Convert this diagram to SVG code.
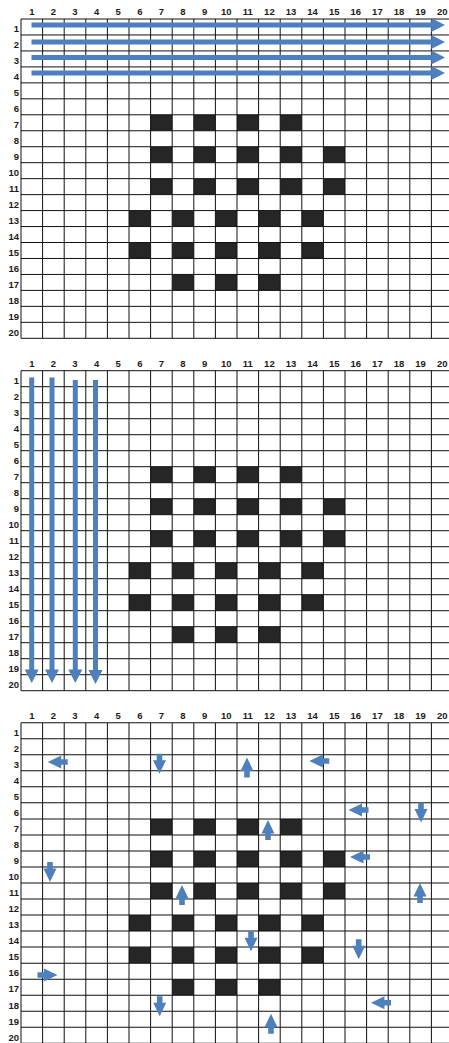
<svg xmlns="http://www.w3.org/2000/svg" xmlns:xlink="http://www.w3.org/1999/xlink" width="449" height="1043" viewBox="0 0 449 1043">
<style>
.bg{fill:#ffffff}
.cell{fill:#262626}
.grid{fill:none;stroke:#111;stroke-width:1}
.lbl{font-family:"Liberation Sans",Arial,sans-serif;font-weight:bold;font-size:9.5px;fill:#1e1a16}
.cl{text-anchor:middle}
.rl{text-anchor:end}
.arr{fill:#4e80bd}
</style>
<defs>
<g id="cellsT">
<rect class="cell" x="150.6" y="96" width="21.6" height="16"/><rect class="cell" x="193.8" y="96" width="21.6" height="16"/><rect class="cell" x="237" y="96" width="21.6" height="16"/><rect class="cell" x="280.2" y="96" width="21.6" height="16"/>
<rect class="cell" x="150.6" y="128" width="21.6" height="16"/><rect class="cell" x="193.8" y="128" width="21.6" height="16"/><rect class="cell" x="237" y="128" width="21.6" height="16"/><rect class="cell" x="280.2" y="128" width="21.6" height="16"/><rect class="cell" x="323.4" y="128" width="21.6" height="16"/>
<rect class="cell" x="150.6" y="160" width="21.6" height="16"/><rect class="cell" x="193.8" y="160" width="21.6" height="16"/><rect class="cell" x="237" y="160" width="21.6" height="16"/><rect class="cell" x="280.2" y="160" width="21.6" height="16"/><rect class="cell" x="323.4" y="160" width="21.6" height="16"/>
<rect class="cell" x="129" y="192" width="21.6" height="16"/><rect class="cell" x="172.2" y="192" width="21.6" height="16"/><rect class="cell" x="215.4" y="192" width="21.6" height="16"/><rect class="cell" x="258.6" y="192" width="21.6" height="16"/><rect class="cell" x="301.8" y="192" width="21.6" height="16"/>
<rect class="cell" x="129" y="224" width="21.6" height="16"/><rect class="cell" x="172.2" y="224" width="21.6" height="16"/><rect class="cell" x="215.4" y="224" width="21.6" height="16"/><rect class="cell" x="258.6" y="224" width="21.6" height="16"/><rect class="cell" x="301.8" y="224" width="21.6" height="16"/>
<rect class="cell" x="172.2" y="256" width="21.6" height="16"/><rect class="cell" x="215.4" y="256" width="21.6" height="16"/><rect class="cell" x="258.6" y="256" width="21.6" height="16"/>
</g>
<path id="linesT" class="grid" d="M21,0V320M42.6,0V320M64.2,0V320M85.8,0V320M107.4,0V320M129,0V320M150.6,0V320M172.2,0V320M193.8,0V320M215.4,0V320M237,0V320M258.6,0V320M280.2,0V320M301.8,0V320M323.4,0V320M345,0V320M366.6,0V320M388.2,0V320M409.8,0V320M431.4,0V320M21,0H449M21,16H449M21,32H449M21,48H449M21,64H449M21,80H449M21,96H449M21,112H449M21,128H449M21,144H449M21,160H449M21,176H449M21,192H449M21,208H449M21,224H449M21,240H449M21,256H449M21,272H449M21,288H449M21,304H449M21,320H449"/>
<path id="sa" class="arr" d="M-10,-2.8H-3.5V-6.5L10,0L-3.5,6.5V2.8H-10Z"/>
</defs>
<rect class="bg" x="0" y="0" width="449" height="1043"/>

<g id="grid1" transform="translate(0,19) scale(1,0.99781)">
<use xlink:href="#cellsT"/>
<use xlink:href="#linesT"/>
<g class="lbl cl">
<text x="31.8" y="-3.7">1</text><text x="53.4" y="-3.7">2</text><text x="75" y="-3.7">3</text><text x="96.6" y="-3.7">4</text><text x="118.2" y="-3.7">5</text><text x="139.8" y="-3.7">6</text><text x="161.4" y="-3.7">7</text><text x="183" y="-3.7">8</text><text x="204.6" y="-3.7">9</text><text x="226.2" y="-3.7">10</text><text x="247.8" y="-3.7">11</text><text x="269.4" y="-3.7">12</text><text x="291" y="-3.7">13</text><text x="312.6" y="-3.7">14</text><text x="334.2" y="-3.7">15</text><text x="355.8" y="-3.7">16</text><text x="377.4" y="-3.7">17</text><text x="399" y="-3.7">18</text><text x="420.6" y="-3.7">19</text><text x="442.2" y="-3.7">20</text>
</g>
<g class="lbl rl">
<text x="19" y="13.3">1</text><text x="19" y="29.3">2</text><text x="19" y="45.3">3</text><text x="19" y="61.3">4</text><text x="19" y="77.3">5</text><text x="19" y="93.3">6</text><text x="19" y="109.3">7</text><text x="19" y="125.3">8</text><text x="19" y="141.3">9</text><text x="19" y="157.3">10</text><text x="19" y="173.3">11</text><text x="19" y="189.3">12</text><text x="19" y="205.3">13</text><text x="19" y="221.3">14</text><text x="19" y="237.3">15</text><text x="19" y="253.3">16</text><text x="19" y="269.3">17</text><text x="19" y="285.3">18</text><text x="19" y="301.3">19</text><text x="19" y="317.3">20</text>
</g>
</g>

<g id="grid2" transform="translate(0,370.7)">
<use xlink:href="#cellsT"/>
<use xlink:href="#linesT"/>
<g class="lbl cl">
<text x="31.8" y="-3.7">1</text><text x="53.4" y="-3.7">2</text><text x="75" y="-3.7">3</text><text x="96.6" y="-3.7">4</text><text x="118.2" y="-3.7">5</text><text x="139.8" y="-3.7">6</text><text x="161.4" y="-3.7">7</text><text x="183" y="-3.7">8</text><text x="204.6" y="-3.7">9</text><text x="226.2" y="-3.7">10</text><text x="247.8" y="-3.7">11</text><text x="269.4" y="-3.7">12</text><text x="291" y="-3.7">13</text><text x="312.6" y="-3.7">14</text><text x="334.2" y="-3.7">15</text><text x="355.8" y="-3.7">16</text><text x="377.4" y="-3.7">17</text><text x="399" y="-3.7">18</text><text x="420.6" y="-3.7">19</text><text x="442.2" y="-3.7">20</text>
</g>
<g class="lbl rl">
<text x="19" y="13.3">1</text><text x="19" y="29.3">2</text><text x="19" y="45.3">3</text><text x="19" y="61.3">4</text><text x="19" y="77.3">5</text><text x="19" y="93.3">6</text><text x="19" y="109.3">7</text><text x="19" y="125.3">8</text><text x="19" y="141.3">9</text><text x="19" y="157.3">10</text><text x="19" y="173.3">11</text><text x="19" y="189.3">12</text><text x="19" y="205.3">13</text><text x="19" y="221.3">14</text><text x="19" y="237.3">15</text><text x="19" y="253.3">16</text><text x="19" y="269.3">17</text><text x="19" y="285.3">18</text><text x="19" y="301.3">19</text><text x="19" y="317.3">20</text>
</g>
</g>

<g id="grid3" transform="translate(0,722.7) scale(1,1.001875)">
<use xlink:href="#cellsT"/>
<use xlink:href="#linesT"/>
<g class="lbl cl">
<text x="31.8" y="-3.7">1</text><text x="53.4" y="-3.7">2</text><text x="75" y="-3.7">3</text><text x="96.6" y="-3.7">4</text><text x="118.2" y="-3.7">5</text><text x="139.8" y="-3.7">6</text><text x="161.4" y="-3.7">7</text><text x="183" y="-3.7">8</text><text x="204.6" y="-3.7">9</text><text x="226.2" y="-3.7">10</text><text x="247.8" y="-3.7">11</text><text x="269.4" y="-3.7">12</text><text x="291" y="-3.7">13</text><text x="312.6" y="-3.7">14</text><text x="334.2" y="-3.7">15</text><text x="355.8" y="-3.7">16</text><text x="377.4" y="-3.7">17</text><text x="399" y="-3.7">18</text><text x="420.6" y="-3.7">19</text><text x="442.2" y="-3.7">20</text>
</g>
<g class="lbl rl">
<text x="19" y="13.3">1</text><text x="19" y="29.3">2</text><text x="19" y="45.3">3</text><text x="19" y="61.3">4</text><text x="19" y="77.3">5</text><text x="19" y="93.3">6</text><text x="19" y="109.3">7</text><text x="19" y="125.3">8</text><text x="19" y="141.3">9</text><text x="19" y="157.3">10</text><text x="19" y="173.3">11</text><text x="19" y="189.3">12</text><text x="19" y="205.3">13</text><text x="19" y="221.3">14</text><text x="19" y="237.3">15</text><text x="19" y="253.3">16</text><text x="19" y="269.3">17</text><text x="19" y="285.3">18</text><text x="19" y="301.3">19</text><text x="19" y="317.3">20</text>
</g>
</g>

<g id="connectors">
<g id="rowArrows">
<path class="arr" d="M31.5,22.5H431.3V18L445,25L431.3,32V27.5H31.5Z"/>
<path class="arr" d="M31.5,39.5H431.3V35L445,42L431.3,49V44.5H31.5Z"/>
<path class="arr" d="M31.5,55H431.3V50.5L445,57.5L431.3,64.5V60H31.5Z"/>
<path class="arr" d="M31.5,70.5H431.3V66L445,73L431.3,80V75.5H31.5Z"/>
</g>
<g id="colArrows">
<path class="arr" d="M29.2,377.5V669.5H24.7L31.7,683L38.7,669.5H34.2V377.5Z"/>
<path class="arr" d="M49.5,377.5V669.5H45L52,683L59,669.5H54.5V377.5Z"/>
<path class="arr" d="M72.8,380V669.5H68.3L75.3,683L82.3,669.5H77.8V380Z"/>
<path class="arr" d="M93,380V670H88.5L95.5,684L102.5,670H98V380Z"/>
</g>
<g id="smallArrows">
<use xlink:href="#sa" transform="translate(57.7,762) rotate(180)"/>
<use xlink:href="#sa" transform="translate(159.5,763.7) rotate(90)"/>
<use xlink:href="#sa" transform="translate(247,767.5) rotate(-90)"/>
<use xlink:href="#sa" transform="translate(319.3,761) rotate(180)"/>
<use xlink:href="#sa" transform="translate(358.5,810) rotate(180)"/>
<use xlink:href="#sa" transform="translate(421,812.5) rotate(90)"/>
<use xlink:href="#sa" transform="translate(268,830) rotate(-90)"/>
<use xlink:href="#sa" transform="translate(360,857) rotate(180)"/>
<use xlink:href="#sa" transform="translate(50,872) rotate(90)"/>
<use xlink:href="#sa" transform="translate(182,895) rotate(-90)"/>
<use xlink:href="#sa" transform="translate(420,893) rotate(-90)"/>
<use xlink:href="#sa" transform="translate(251,941.2) rotate(90)"/>
<use xlink:href="#sa" transform="translate(358.7,949.3) rotate(90)"/>
<use xlink:href="#sa" transform="translate(47.5,975)"/>
<use xlink:href="#sa" transform="translate(381,1002.7) rotate(180)"/>
<use xlink:href="#sa" transform="translate(159.7,1006.3) rotate(90)"/>
<use xlink:href="#sa" transform="translate(271,1023.8) rotate(-90)"/>
</g>
</g>
</svg>
